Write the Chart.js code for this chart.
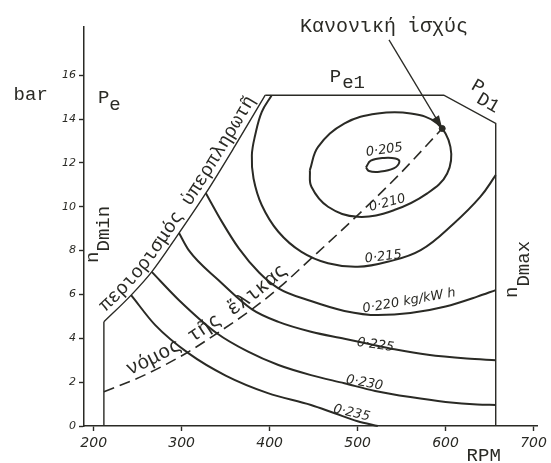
<!DOCTYPE html>
<html>
<head>
<meta charset="utf-8">
<script src="https://cdn.jsdelivr.net/npm/chart.js@4.4.1/dist/chart.umd.min.js"></script>
<style>
  html, body { margin: 0; padding: 0; background: #fff; }
  canvas { display: block; }
</style>
</head>
<body>
<canvas id="map" width="551" height="463"></canvas>
<script>
// engine speed in RPM against mean effective pressure in bar
const xTicks = [200, 300, 400, 500, 600, 700];
const yTicks = [0, 2, 4, 6, 8, 10, 12, 14, 16];

// operating envelope
const nDminLine = [[211.6, 0], [211.6, 4.75]];
const boostLimit = [[211.6, 4.75], [242.6, 5.97], [266, 7.03], [297, 8.8], [327.5, 10.62], [361, 12.8], [395, 15.09]];
const fullLoad = [[395, 15.09], [598, 15.09], [657, 13.8], [657, 0]];

// propeller law, ending at the rated point
const propellerLaw = [[211.6, 1.56], [257.6, 2.32], [304.6, 3.31], [340.3, 4.23], [379.8, 5.32], [409.9, 6.28],
  [449.4, 7.72], [500.2, 9.62], [548, 11.5], [596.2, 13.57]];
const ratedPoint = [596.2, 13.57];

// specific fuel consumption contours, kg/kWh
const sfc205 = [[509.5, 11.8], [515, 12.1], [530, 12.23], [543, 12.2], [547.5, 12.05], [541, 11.75], [525, 11.6], [513, 11.63]];
const sfc210 = [[445.7, 11.67], [455.1, 12.73], [485.2, 13.8], [522.8, 14.25], [560.4, 14.25], [590.5, 13.8], [605.5, 12.73],
  [601.8, 11.52], [579.2, 10.61], [541.6, 9.85], [500.2, 9.54], [466.4, 10.0], [447.5, 10.91]];
const sfc215 = [[402.4, 15.09], [391.1, 14.33], [383.6, 13.27], [379.8, 12.35], [381.7, 11.29], [391.1, 10.07], [409.9, 8.86],
  [436.2, 7.94], [466.4, 7.42], [500.2, 7.26], [534.1, 7.49], [571.7, 8.02], [609.4, 9.24], [639.4, 10.45], [657, 11.44]];
const sfc220 = [[327.5, 10.62], [346, 9.3], [365, 8.1], [388, 7.0], [410, 6.28], [447, 5.7], [485, 5.25], [523, 5.06],
  [560, 5.15], [600, 5.45], [636, 5.9], [657, 6.2]];
const sfc225 = [[297, 8.8], [308, 8.02], [342, 6.65], [380, 5.32], [410, 4.75], [447, 4.3], [485, 3.98], [512, 3.75],
  [542, 3.5], [580, 3.25], [624, 3.08], [657, 3.0]];
const sfc230 = [[266, 7.03], [297, 5.74], [340, 4.23], [375, 3.4], [410, 2.78], [447, 2.32], [485, 1.95], [520, 1.6],
  [560, 1.32], [600, 1.1], [636, 0.98], [657, 0.96]];
const sfc235 = [[242.6, 5.97], [270, 4.6], [308, 3.31], [350, 2.3], [398, 1.5], [447, 0.96], [474, 0.58], [500, 0.22], [523, 0]];

const ink = '#2a2a25';
const mono = '"Liberation Mono", "DejaVu Sans Mono", monospace';
const sans = '"DejaVu Sans", sans-serif';

const pts = arr => arr.map(([x, y]) => ({x, y}));
const closed = arr => pts(arr.concat([arr[0]]));

function curve(data, opts) {
  return Object.assign({
    data, showLine: true, pointRadius: 0, borderColor: ink, borderWidth: 2,
    fill: false, clip: false, tension: 0
  }, opts);
}

const datasets = [
  curve(pts(nDminLine), {borderWidth: 1.4}),
  curve(pts(boostLimit), {borderWidth: 1.4, cubicInterpolationMode: 'monotone'}),
  curve(pts(fullLoad), {borderWidth: 1.4}),
  curve(pts(propellerLaw), {borderWidth: 1.6, borderDash: [11, 6], cubicInterpolationMode: 'monotone'}),
  curve(closed(sfc205), {tension: 0.4}),
  curve(closed(sfc210), {tension: 0.4}),
  curve(pts(sfc215), {tension: 0.4}),
  curve(pts(sfc220), {cubicInterpolationMode: 'monotone'}),
  curve(pts(sfc225), {cubicInterpolationMode: 'monotone'}),
  curve(pts(sfc230), {cubicInterpolationMode: 'monotone'}),
  curve(pts(sfc235), {cubicInterpolationMode: 'monotone'}),
  {data: pts([ratedPoint]), pointRadius: 3, backgroundColor: ink, borderColor: ink, showLine: false, clip: false},
];

// sample the drawn spline of a dataset as a polyline
function pathOf(chart, idx) {
  const el = chart.getDatasetMeta(idx).data;
  const out = [];
  for (let i = 0; i < el.length - 1; i++) {
    const a = el[i], b = el[i + 1];
    const c1x = a.cp2x ?? a.x, c1y = a.cp2y ?? a.y, c2x = b.cp1x ?? b.x, c2y = b.cp1y ?? b.y;
    for (let k = 0; k < 12; k++) {
      const t = k / 12, u = 1 - t;
      out.push({
        x: u * u * u * a.x + 3 * u * u * t * c1x + 3 * u * t * t * c2x + t * t * t * b.x,
        y: u * u * u * a.y + 3 * u * u * t * c1y + 3 * u * t * t * c2y + t * t * t * b.y
      });
    }
  }
  const last = el[el.length - 1];
  out.push({x: last.x, y: last.y});
  return out;
}

// letters set one by one along a path, lifted above it
function textAlong(ctx, text, path, start, lift) {
  const cum = [0];
  for (let i = 1; i < path.length; i++) {
    cum.push(cum[i - 1] + Math.hypot(path[i].x - path[i - 1].x, path[i].y - path[i - 1].y));
  }
  const at = d => {
    let i = 1;
    while (i < path.length - 1 && cum[i] < d) i++;
    const a = path[i - 1], b = path[i];
    const t = (d - cum[i - 1]) / ((cum[i] - cum[i - 1]) || 1);
    return {x: a.x + (b.x - a.x) * t, y: a.y + (b.y - a.y) * t};
  };
  let d = start;
  for (const ch of text) {
    const w = ctx.measureText(ch).width;
    const p0 = at(d), p1 = at(d + w), p = at(d + w / 2);
    const ang = Math.atan2(p1.y - p0.y, p1.x - p0.x);
    ctx.save();
    ctx.translate(p.x + Math.sin(ang) * lift, p.y - Math.cos(ang) * lift);
    ctx.rotate(ang);
    ctx.fillText(ch, -w / 2, 0);
    ctx.restore();
    d += w;
  }
}

// symbol with a lowered index, optionally turned
function subText(ctx, base, sub, x, y, angle, dx, dy) {
  ctx.save();
  ctx.translate(x, y);
  ctx.rotate(angle * Math.PI / 180);
  ctx.fillText(base, 0, 0);
  ctx.fillText(sub, ctx.measureText(base).width + dx, dy);
  ctx.restore();
}

function turned(ctx, text, x, y, angle) {
  ctx.save();
  ctx.translate(x, y);
  ctx.rotate(angle * Math.PI / 180);
  ctx.textAlign = 'center';
  ctx.textBaseline = 'middle';
  ctx.fillText(text, 0, 0);
  ctx.restore();
}

// contour values, placed at rpm / bar with their slope in degrees
const sfcLabels = [
  ['0·205', 530.4, 12.59, -8],
  ['0·210', 533.8, 10.17, -15],
  ['0·215', 529.2, 7.71, -7],
  ['0·220 kg/kW h', 558.5, 5.70, -10],
  ['0·225', 520.2, 3.69, 8],
  ['0·230', 507.8, 1.96, 10],
  ['0·235', 493.2, 0.59, 13],
];

const mapLabels = {
  id: 'mapLabels',
  afterDatasetsDraw(chart) {
    const {ctx} = chart;
    const sx = chart.scales.x, sy = chart.scales.y;
    const px = v => sx.getPixelForValue(v), py = v => sy.getPixelForValue(v);
    ctx.save();
    ctx.fillStyle = ink;
    ctx.strokeStyle = ink;

    ctx.font = `19px ${mono}`;
    ctx.fillText('bar', px(109), py(14.87));
    ctx.fillText('RPM', px(623.9), py(-1.6));
    subText(ctx, 'P', 'e', px(204.8), py(14.73), 0, 0, 7);
    subText(ctx, 'P', 'e1', px(468.4), py(15.69), 0, 1, 6);
    subText(ctx, 'P', 'D1', px(628), py(15.4), 30, 0, 9);
    subText(ctx, 'n', 'Dmin', px(204.8), py(7.44), -90, 0, 11);
    subText(ctx, 'n', 'Dmax', px(681.5), py(5.84), -90, 0, 12);
    textAlong(ctx, 'περιορισμός ὑπερπληρωτῆ', pathOf(chart, 1), 8, 6);

    ctx.font = `20px ${mono}`;
    ctx.fillText('Κανονική ἰσχύς', px(434.6), py(17.97));
    textAlong(ctx, 'νόμος τῆς ἕλικας', pathOf(chart, 3), 30, 6);

    // arrow to the rated point
    const tx = px(ratedPoint[0]), ty = py(ratedPoint[1]);
    const fx = px(535.7), fy = py(17.61);
    const ang = Math.atan2(ty - fy, tx - fx);
    ctx.lineWidth = 1.3;
    ctx.beginPath();
    ctx.moveTo(fx, fy);
    ctx.lineTo(tx - Math.cos(ang) * 10, ty - Math.sin(ang) * 10);
    ctx.stroke();
    ctx.beginPath();
    ctx.moveTo(tx, ty);
    ctx.lineTo(tx - Math.cos(ang) * 13 + Math.sin(ang) * 4, ty - Math.sin(ang) * 13 - Math.cos(ang) * 4);
    ctx.lineTo(tx - Math.cos(ang) * 13 - Math.sin(ang) * 4, ty - Math.sin(ang) * 13 + Math.cos(ang) * 4);
    ctx.closePath();
    ctx.fill();

    ctx.font = `italic 13px ${sans}`;
    for (const [t, x, y, a] of sfcLabels) turned(ctx, t, px(x), py(y), a);
    ctx.restore();
  }
};

new Chart(document.getElementById('map'), {
  type: 'scatter',
  data: {datasets},
  options: {
    responsive: false,
    animation: false,
    events: [],
    layout: {padding: {top: 27, right: 9, left: 0, bottom: 0}},
    plugins: {legend: {display: false}, tooltip: {enabled: false}},
    scales: {
      x: {
        type: 'linear', min: 189, max: 705,
        afterBuildTicks: s => { s.ticks = xTicks.map(v => ({value: v})); },
        afterFit: s => { s.height = 37; },
        grid: {drawOnChartArea: false, tickLength: 5, tickWidth: 1.4, color: ink, tickColor: ink},
        border: {display: true, color: ink, width: 1.5},
        ticks: {color: ink, padding: 4, maxRotation: 0, autoSkip: false,
          font: {family: sans, size: 14, style: 'italic'}}
      },
      y: {
        type: 'linear', min: 0, max: 18.2,
        afterBuildTicks: s => { s.ticks = yTicks.map(v => ({value: v})); },
        afterFit: s => { s.width = 84; },
        grid: {drawOnChartArea: false, tickLength: 5, tickWidth: 1.4, color: ink, tickColor: ink},
        border: {display: true, color: ink, width: 1.5},
        ticks: {color: ink, padding: 3, autoSkip: false,
          font: {family: sans, size: 11, style: 'italic'}}
      }
    }
  },
  plugins: [mapLabels]
});
</script>
</body>
</html>
